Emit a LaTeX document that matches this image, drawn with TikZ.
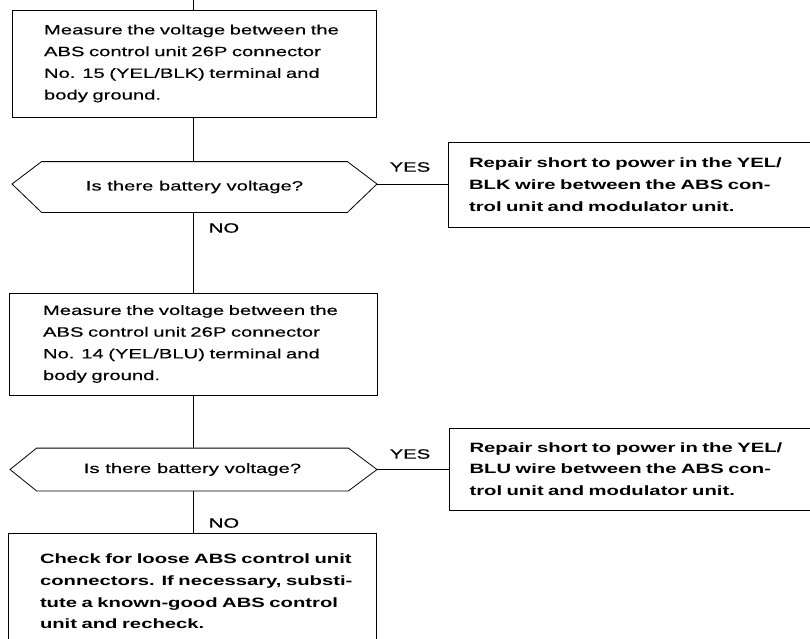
\documentclass[tikz,border=0pt]{standalone}
\usepackage{fontspec}
\setmainfont[FakeStretch=1.5,UprightFeatures={FakeBold=0.35}]{Liberation Sans}
\usetikzlibrary{calc}
\newcommand{\myjust}[1]{\makebox[\linewidth][s]{#1}}
\begin{document}
\begin{tikzpicture}[x=1pt,y=-1pt,line width=0.8pt,
  every node/.style={font=\fontsize{13.5}{21.7}\selectfont},
  box/.style={draw,align=left,inner sep=0pt},
  hexlbl/.style={inner sep=0pt},
  lbl/.style={inner sep=0pt}]
\useasboundingbox (0,0) rectangle (810,638);
\fill[white] (0,0) rectangle (810,638);
\coordinate (top) at (193,0);

% boxes
\node[box,minimum width=364pt,minimum height=107pt,text width=300pt] (m1) at (194,63.5)
 {\myjust{Measure the voltage between the}\\
  \myjust{ABS control unit 26P connector}\\
  \myjust{No. 15 (YEL/BLK) terminal and}\\
  body ground.};

\node[hexlbl,minimum width=305pt,minimum height=50pt] (hex1) at (194.5,187) {Is there battery voltage?};
\coordinate (h1l) at (12,184);
\coordinate (h1r) at (377,184);
\draw (hex1.north west) -- (hex1.north east) -- (h1r) -- (hex1.south east) -- (hex1.south west) -- (h1l) -- cycle;

\node[box,minimum width=367pt,minimum height=85pt,text width=325pt] (r1) at (631.5,184.5)
 {\bfseries\myjust{Repair short to power in the YEL/}\\
  \myjust{BLK wire between the ABS con-}\\
  trol unit and modulator unit.};

\node[box,minimum width=368pt,minimum height=102pt,text width=300pt] (m2) at (193,344)
 {\myjust{Measure the voltage between the}\\
  \myjust{ABS control unit 26P connector}\\
  \myjust{No. 14 (YEL/BLU) terminal and}\\
  body ground.};

\node[hexlbl,minimum width=311pt,minimum height=42pt] (hex2) at (192.5,469.5) {Is there battery voltage?};
\coordinate (h2l) at (10,469.5);
\coordinate (h2r) at (377,469.5);
\draw (hex2.north west) -- (hex2.north east) -- (h2r) -- (hex2.south east) -- (hex2.south west) -- (h2l) -- cycle;

\node[box,minimum width=366pt,minimum height=82pt,text width=325pt] (r2) at (632,469)
 {\bfseries\myjust{Repair short to power in the YEL/}\\
  \myjust{BLU wire between the ABS con-}\\
  trol unit and modulator unit.};

\node[box,minimum width=368pt,minimum height=117pt,text width=304pt] (m3) at (192,591.5)
 {\bfseries\myjust{Check for loose ABS control unit}\\
  \myjust{connectors. If necessary, substi-}\\
  \myjust{tute a known-good ABS control}\\
  unit and recheck.};

% connectors
\draw (top) -- (top |- m1.north);
\draw (top |- m1.south) -- (top |- hex1.north);
\draw (top |- hex1.south) -- (top |- m2.north);
\draw (top |- m2.south) -- (top |- hex2.north);
\draw (top |- hex2.south) -- (top |- m3.north);
\draw (h1r) -- (h1r -| r1.west);
\draw (h2r) -- (h2r -| r2.west);

% labels
\node[lbl] (yes1) at (410,167) {YES};
\node[lbl] (no1) at (224,228) {NO};
\node[lbl] (yes2) at (410,454) {YES};
\node[lbl] (no2) at (224,523) {NO};
\end{tikzpicture}
\end{document}
